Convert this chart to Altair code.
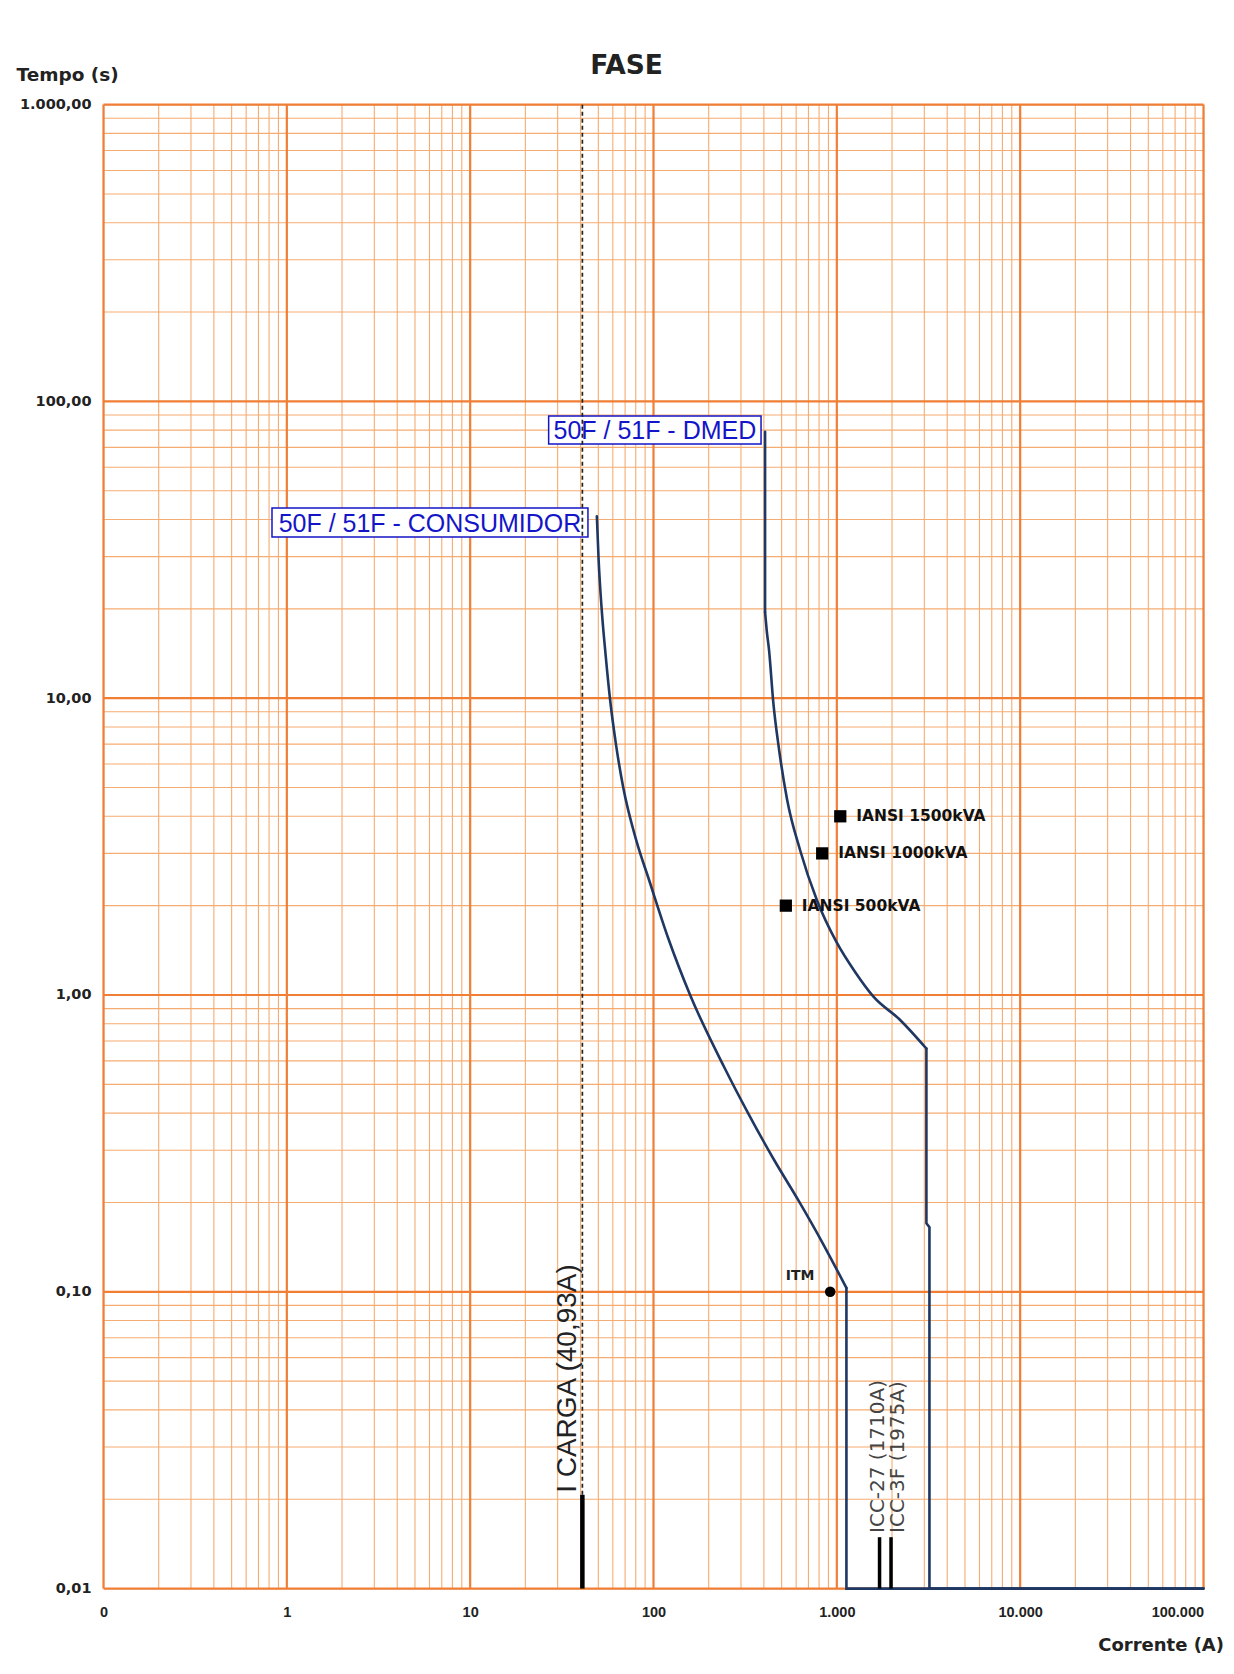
import altair as alt
import pandas as pd

# ---------------- data ----------------
# 50F/51F - CONSUMIDOR: smooth time-current curve, then straight tail
cons_smooth_I = [49.1, 50.2, 52.2, 54.8, 58.0, 62.5, 68.3, 80.4, 94.6, 120.2, 158.4, 242.8, 328, 455, 615, 836.5, 1128]
cons_smooth_t = [41, 29.2, 19.8, 14.0, 9.86, 6.95, 5.02, 3.33, 2.44, 1.556, 1.0, 0.572, 0.40, 0.278, 0.204, 0.146, 0.103]
cons_straight_I = [1128, 1128, 100000]
cons_straight_t = [0.103, 0.01, 0.01]

# 50F/51F - DMED
dmed_top_I = [406, 406]
dmed_top_t = [79, 19.5]
dmed_smooth_I = [406, 415, 427, 449, 484.5, 536, 630, 778, 1000, 1258, 1584, 2214, 3080]
dmed_smooth_t = [19.5, 16.8, 14.5, 9.86, 6.69, 4.54, 3.08, 2.09, 1.5, 1.195, 0.987, 0.824, 0.66]
dmed_tail_I = [3080, 3080, 3200, 3200, 100000]
dmed_tail_t = [0.66, 0.17, 0.165, 0.01, 0.01]

iansi_labels = ["IANSI 1500kVA", "IANSI 1000kVA", "IANSI 500kVA"]
iansi_I = [1044, 832, 527]
iansi_t = [4.0, 3.0, 2.0]

itm_label = ["ITM"]
itm_I = [920]
itm_t = [0.1]

icarga_label = ["I CARGA (40,93A)"]
icarga_I = [40.93]
icarga_solid_top = [0.0207]
icarga_top = [1000]
t_floor = [0.01]

icc_labels = ["ICC-27 (1710A)", "ICC-3F (1975A)"]
icc_I = [1710, 1975]
icc_bar_top = [0.0149, 0.0149]
icc_text_t = [0.0154, 0.0154]

box_labels = ["50F / 51F - CONSUMIDOR", "50F / 51F - DMED"]
box_I1 = [0.83, 26.8]
box_I2 = [43.9, 386]
box_t1 = [43.7, 89.3]
box_t2 = [34.9, 71.9]

x_ticks = [0.1, 1, 10, 100, 1000, 10000, 100000]
x_tick_labels = ["0", "1", "10", "100", "1.000", "10.000", "100.000"]
y_ticks = [0.01, 0.1, 1, 10, 100, 1000]
y_tick_labels = ["0,01", "0,10", "1,00", "10,00", "100,00", "1.000,00"]
minor_steps = [2, 3, 4, 5, 6, 7, 8, 9]

# ---------------- helpers ----------------
def label_expr(vals, labels):
    expr = "''"
    for v, l in reversed(list(zip(vals, labels))):
        expr = f"abs(datum.value - {v}) < {v} * 0.001 ? '{l}' : ({expr})"
    return expr

x_minor = [k * d for d in x_ticks[:-1] for k in minor_steps]
y_minor = [k * d for d in y_ticks[:-1] for k in minor_steps]

MAJ = "#F07E34"
MIN = "#F5AC72"
CURVE = "#1E3763"
BLUE = "#1414C8"

xscale = alt.Scale(type="log", domain=[0.1, 100000], nice=False)
yscale = alt.Scale(type="log", domain=[0.01, 1000], nice=False)

xaxis = alt.Axis(
    values=x_ticks, labelExpr=label_expr(x_ticks, x_tick_labels),
    grid=False, ticks=False, tickSize=0, domain=False,
    labelFont="Liberation Sans", labelFontSize=14.5, labelFontWeight="bold",
    labelColor="#222", labelPadding=17, labelBaseline="top", labelFlush=False,
    labelAlign={"condition": {"test": f"datum.value >= {x_ticks[-1] * 0.999}", "value": "right"},
                "value": "center"},
    title="Corrente (A)", titleFont="DejaVu Sans", titleFontSize=18,
    titleFontWeight="bold", titleColor="#222", titleAlign="right",
    titleAnchor="end", titleBaseline="alphabetic", titleX=1120, titleY=62,
)
yaxis = alt.Axis(
    values=y_ticks, labelExpr=label_expr(y_ticks, y_tick_labels),
    grid=False, ticks=False, tickSize=0, domain=False,
    labelFont="DejaVu Sans", labelFontSize=14.5, labelFontWeight="bold",
    labelColor="#222", labelPadding=12.5, labelBaseline="middle", labelFlush=False,
    title="Tempo (s)", titleFont="DejaVu Sans", titleFontSize=18.5,
    titleFontWeight="bold", titleColor="#222", titleAngle=0, titleAlign="left",
    titleBaseline="alphabetic", titleX=-87.5, titleY=-24,
)

X = alt.X("I:Q", scale=xscale, axis=xaxis)
Y = alt.Y("t:Q", scale=yscale, axis=yaxis)

# ---------------- grid ----------------
vmin = alt.Chart(pd.DataFrame({"I": x_minor})).mark_rule(color=MIN, strokeWidth=1.1).encode(x=X)
hmin = alt.Chart(pd.DataFrame({"t": y_minor})).mark_rule(color=MIN, strokeWidth=1.1).encode(y=Y)
vmaj = alt.Chart(pd.DataFrame({"I": x_ticks})).mark_rule(color=MAJ, strokeWidth=2.2).encode(x=X)
hmaj = alt.Chart(pd.DataFrame({"t": y_ticks})).mark_rule(color=MAJ, strokeWidth=2.2).encode(y=Y)

# ---------------- label boxes ----------------
boxes_df = pd.DataFrame({"label": box_labels, "I": box_I1, "I2": box_I2, "t": box_t1, "t2": box_t2})
boxes_df["Ic"] = (boxes_df["I"] * boxes_df["I2"]) ** 0.5
boxes_df["tc"] = (boxes_df["t"] * boxes_df["t2"]) ** 0.5
box_rect = alt.Chart(boxes_df).mark_rect(fill="white", stroke=BLUE, strokeWidth=1.5).encode(
    x=X, x2="I2:Q", y=Y, y2="t2:Q")
box_text = alt.Chart(boxes_df).mark_text(
    font="Liberation Sans", fontSize=25, color=BLUE, align="center", baseline="middle", dy=1
).encode(x=alt.X("Ic:Q", scale=xscale, axis=xaxis), y=alt.Y("tc:Q", scale=yscale, axis=yaxis), text="label:N")

# ---------------- I CARGA ----------------
carga_df = pd.DataFrame({"I": icarga_I, "t": icarga_solid_top, "t2": icarga_top,
                         "tf": t_floor, "label": icarga_label})
carga_dash = alt.Chart(carga_df).mark_rule(color="#222", strokeWidth=1.7, strokeDash=[4, 3]).encode(
    x=X, y=Y, y2="t2:Q")
carga_bar = alt.Chart(carga_df).mark_rule(color="black", strokeWidth=4.5).encode(
    x=X, y=alt.Y("tf:Q", scale=yscale, axis=yaxis), y2="t:Q")
carga_text = alt.Chart(carga_df).mark_text(
    font="Liberation Sans", fontSize=28, color="#222", angle=270, align="left",
    baseline="middle", dx=2, dy=-14
).encode(x=X, y=Y, text="label:N")

# ---------------- curves ----------------
def seg(name, I, t):
    return pd.DataFrame({"seg": name, "I": I, "t": t, "seq": range(len(I))})

smooth_df = pd.concat([seg("cons", cons_smooth_I, cons_smooth_t),
                       seg("dmed", dmed_smooth_I, dmed_smooth_t)])
straight_df = pd.concat([seg("cons_tail", cons_straight_I, cons_straight_t),
                         seg("dmed_top", dmed_top_I, dmed_top_t),
                         seg("dmed_tail", dmed_tail_I, dmed_tail_t)])
curves_smooth = alt.Chart(smooth_df).mark_line(
    color=CURVE, strokeWidth=2.6, interpolate="monotone", strokeCap="round").encode(
    x=X, y=Y, detail="seg:N", order="seq:Q")
curves_straight = alt.Chart(straight_df).mark_line(
    color=CURVE, strokeWidth=2.6, strokeJoin="miter", strokeCap="round").encode(
    x=X, y=Y, detail="seg:N", order="seq:Q")

# ---------------- ICC ----------------
icc_df = pd.DataFrame({"I": icc_I, "t": icc_bar_top, "tf": t_floor * 2,
                       "tt": icc_text_t, "label": icc_labels})
icc_bar = alt.Chart(icc_df).mark_rule(color="black", strokeWidth=3.5).encode(
    x=X, y=alt.Y("tf:Q", scale=yscale, axis=yaxis), y2="t:Q")
icc_text1 = alt.Chart(icc_df.iloc[[0]]).mark_text(
    font="DejaVu Sans", fontSize=20, color="#444", angle=270, align="left",
    baseline="middle", dy=-2
).encode(x=X, y=alt.Y("tt:Q", scale=yscale, axis=yaxis), text="label:N")
icc_text2 = alt.Chart(icc_df.iloc[[1]]).mark_text(
    font="DejaVu Sans", fontSize=20, color="#444", angle=270, align="left",
    baseline="middle", dy=7
).encode(x=X, y=alt.Y("tt:Q", scale=yscale, axis=yaxis), text="label:N")

# ---------------- markers ----------------
iansi_df = pd.DataFrame({"I": iansi_I, "t": iansi_t, "label": iansi_labels})
iansi_pts = alt.Chart(iansi_df).mark_square(color="black", size=150, opacity=1).encode(x=X, y=Y)
iansi_txt = alt.Chart(iansi_df).mark_text(
    font="DejaVu Sans", fontSize=15.5, fontWeight="bold", color="#111", align="left",
    baseline="middle", dx=16
).encode(x=X, y=Y, text="label:N")

itm_df = pd.DataFrame({"I": itm_I, "t": itm_t, "label": itm_label})
itm_pt = alt.Chart(itm_df).mark_circle(color="black", size=110, opacity=1).encode(x=X, y=Y)
itm_txt = alt.Chart(itm_df).mark_text(
    font="DejaVu Sans", fontSize=14, fontWeight="bold", color="#222", align="center",
    baseline="middle", dx=-30, dy=-16
).encode(x=X, y=Y, text="label:N")

chart = alt.layer(
    vmin, hmin, vmaj, hmaj,
    box_rect, box_text,
    carga_dash, curves_smooth, curves_straight, carga_bar, carga_text,
    icc_bar, icc_text1, icc_text2,
    iansi_pts, iansi_txt, itm_pt, itm_txt,
).properties(
    width=1100, height=1484,
    autosize=alt.AutoSizeParams(type="none"),
    padding={"left": 95.5, "top": 96.6, "right": 22, "bottom": 77},
    title=alt.TitleParams("FASE", font="DejaVu Sans", fontSize=26.5, fontWeight="bold",
                          color="#222", anchor="middle", dx=-27, offset=-35,
                          baseline="alphabetic"),
).configure_view(stroke=None).configure(background="white")

chart.save("out.html", embed_options={"renderer": "svg", "actions": False})
